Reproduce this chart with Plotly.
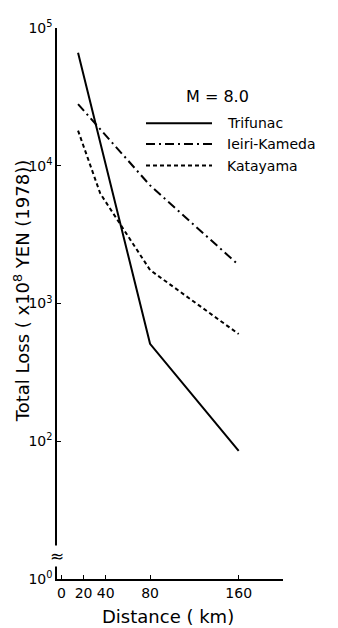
import plotly.graph_objects as go

# ---- data ----
distance_trifunac = [15, 80, 160]
loss_trifunac = [66000, 510, 85]

distance_ieiri = [15, 80, 160]
loss_ieiri = [28000, 7200, 1900]

distance_katayama = [15, 35, 80, 160]
loss_katayama = [18000, 6300, 1750, 600]

x_tickvals = [0, 20, 40, 80, 160]
x_ticktext = ["0", "20", "40", "80", "160"]
y_tickvals = [10, 100, 1000, 10000, 100000]
y_ticktext = ["10<sup>0</sup>", "10<sup>2</sup>", "10<sup>3</sup>", "10<sup>4</sup>", "10<sup>5</sup>"]

legend_title = "M = 8.0"
series_names = ["Trifunac", "Ieiri-Kameda", "Katayama"]

# ---- layout geometry (page body has an 8px margin) ----
OFF = 8
W, H = 338 - OFF, 628 - OFF
ML, MT = 57 - OFF, 18 - OFF
PW, PH = 226, 561
MR, MB = W - ML - PW, H - MT - PH
FONT = "DejaVu Sans"


def px(x):
    return (x - OFF - ML) / PW


def py(y):
    return (MT + PH - (y - OFF)) / PH


styles = [
    dict(color="black", width=2, dash="solid"),
    dict(color="black", width=2, dash="9px,4px,2px,4px"),
    dict(color="black", width=2, dash="4px,3px"),
]

fig = go.Figure()
for xs, ys, name, st in zip(
    [distance_trifunac, distance_ieiri, distance_katayama],
    [loss_trifunac, loss_ieiri, loss_katayama],
    series_names,
    styles,
):
    fig.add_trace(go.Scatter(x=xs, y=ys, mode="lines", name=name, line=st,
                             showlegend=False))

# legend drawn manually (long line samples as in the reference)
ann = []
shapes = []
ann.append(dict(x=px(217), y=py(88), xref="paper", yref="paper", text=legend_title,
                showarrow=False, font=dict(family=FONT, size=16, color="black"),
                xanchor="center", yanchor="middle"))
for i, (name, st) in enumerate(zip(series_names, styles)):
    yy = [115, 136, 158][i]
    shapes.append(dict(type="line", xref="paper", yref="paper",
                       x0=px(146), x1=px(212), y0=py(yy), y1=py(yy),
                       line=st))
    ann.append(dict(x=px(225), y=py(yy), xref="paper", yref="paper", text=name,
                    showarrow=False, font=dict(family=FONT, size=14, color="black"),
                    xanchor="left", yanchor="middle"))

# axis titles
ann.append(dict(x=px(22), y=py(286), xref="paper", yref="paper",
                text="Total Loss ( x10<sup>8</sup> YEN (1978))", textangle=-90,
                showarrow=False, font=dict(family=FONT, size=18, color="black"),
                xanchor="center", yanchor="middle"))
ann.append(dict(x=px(168), y=py(617), xref="paper", yref="paper",
                text="Distance ( km)", showarrow=False,
                font=dict(family=FONT, size=18, color="black"),
                xanchor="center", yanchor="middle"))
# axis break mark
ann.append(dict(x=0, y=py(556), xref="paper", yref="paper", text="≈",
                showarrow=False, font=dict(family=FONT, size=17, color="black"),
                xanchor="center", yanchor="middle", bgcolor="white",
                borderpad=0))

fig.update_layout(
    width=W, height=H,
    margin=dict(l=ML, r=MR, t=MT, b=MB, pad=0),
    paper_bgcolor="white", plot_bgcolor="white",
    font=dict(family=FONT, size=13, color="black"),
    showlegend=False,
    annotations=ann,
    shapes=shapes,
)
fig.update_xaxes(range=[-4, 200], tickvals=x_tickvals, ticktext=x_ticktext,
                 showgrid=False, zeroline=False, showline=True, linecolor="black",
                 linewidth=1.5, ticks="inside", ticklen=4, tickcolor="black",
                 tickwidth=1.2, tickfont=dict(family=FONT, size=14))
fig.update_yaxes(type="log", range=[1, 5], tickvals=y_tickvals, ticktext=y_ticktext,
                 showgrid=False, zeroline=False, showline=True, linecolor="black",
                 linewidth=1.5, ticks="inside", ticklen=4, tickcolor="black",
                 tickwidth=1.2, tickfont=dict(family=FONT, size=14))

fig.write_html("out.html")
